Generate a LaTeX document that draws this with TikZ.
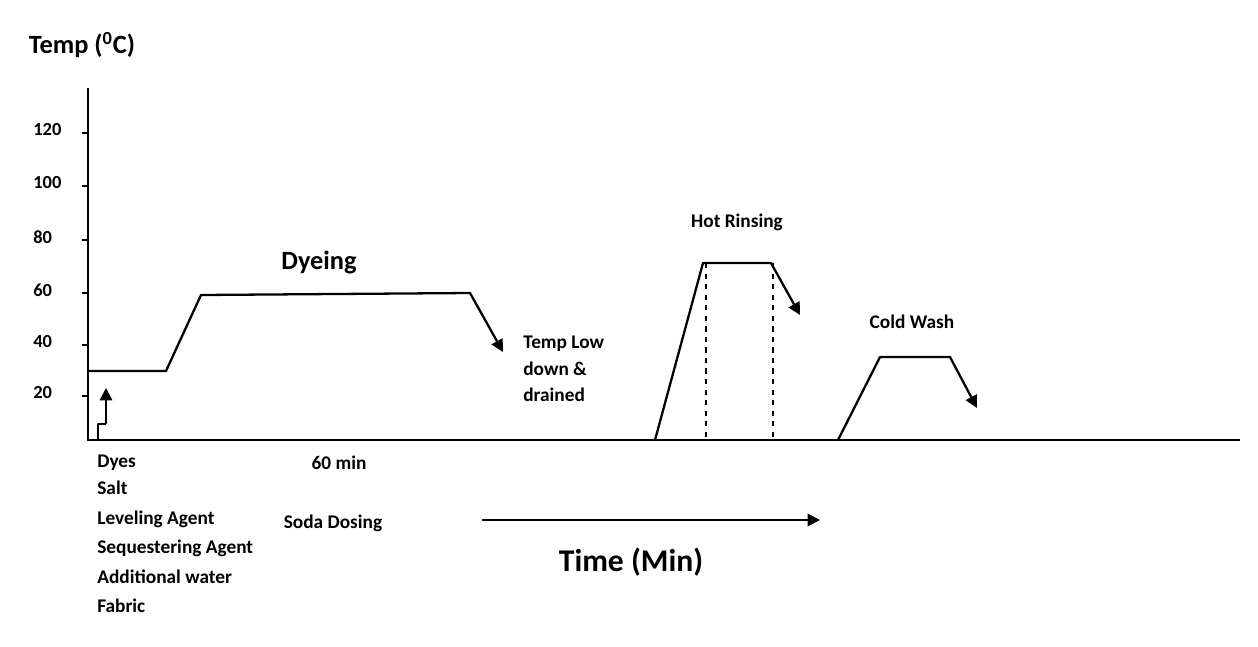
\documentclass[tikz,border=0pt]{standalone}
\usepackage{fontspec}
\setmainfont{Carlito}
\usetikzlibrary{arrows.meta}

\begin{document}
\begin{tikzpicture}[x=0.02cm, y=-0.02cm,
	curve/.style={line width=1.3pt, line join=round},
	tip/.style={-{Triangle[length=7pt, width=7pt]}},
	lbl/.style={font=\bfseries\fontsize{10.5}{12}\selectfont, inner sep=0pt},
	txt/.style={font=\bfseries\fontsize{11}{15}\selectfont, inner sep=0pt, anchor=west}]
	\useasboundingbox (0,0) rectangle (1258,646);
	%axes
	\draw[line width=1.1pt] (88,88) -- (88,440) -- (1240,440);
	\foreach \v/\y in {120/133, 100/186, 80/240, 60/293, 40/345, 20/396} {
		\draw[line width=0.8pt] (82,\y) -- (88,\y);
		\node[lbl, anchor=west] at (33,\y-3) {\v};
	}
	\node[font=\bfseries\fontsize{15}{18}\selectfont, inner sep=0pt] (temp) at (82,45) {Temp (\textsuperscript{0}C)};
	%dyeing
	\draw[curve, tip] (88,371) -- (166,371) -- (201,295) -- (470,293) -- (503,352);
	\draw[curve] (98,440) -- (98,424) -- (106,424);
	\draw[curve, tip] (106,424) -- (106,388);
	\node[font=\bfseries\fontsize{15}{18}\selectfont, inner sep=0pt] (dyeing) at (319,262) {Dyeing};
	\node[txt, align=left, anchor=north west] (low) at (523,336) {Temp Low\\down \&\\drained};
	%hot rinsing
	\draw[curve, tip] (655,440) -- (703,263) -- (771,263) -- (800,315);
	\draw[line width=1.1pt, dashed] (706,263) -- (706,440);
	\draw[line width=1.1pt, dashed] (773,263) -- (773,440);
	\node[txt, anchor=center] (hot) at (737,222) {Hot Rinsing};
	%cold wash
	\draw[curve, tip] (838,440) -- (880,357) -- (950,357) -- (977,408);
	\node[txt, anchor=center] (cold) at (912,322) {Cold Wash};
	%bottom labels
	\foreach \t/\y in {Dyes/463, Salt/488, Leveling Agent/519, Sequestering Agent/548, Additional water/577, Fabric/606}
		\node[txt] at (97,\y) {\t};
	\node[txt, anchor=center] (min) at (339,463) {60 min};
	\node[txt, anchor=center] (soda) at (333,523) {Soda Dosing};
	\coordinate (ts) at (482,520);
	\coordinate (te) at (820,520);
	\draw[line width=1.3pt, tip] (ts) -- (te);
	\node[font=\bfseries\fontsize{18}{21}\selectfont, inner sep=0pt] (time) at (631,562) {Time (Min)};
\end{tikzpicture}
\end{document}
